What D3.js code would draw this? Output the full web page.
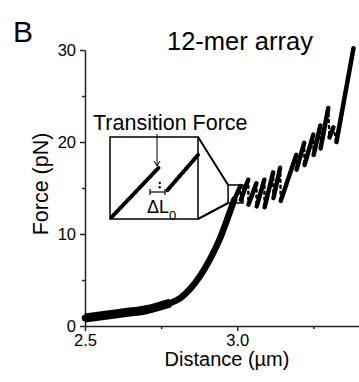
<!DOCTYPE html>
<html>
<head>
<meta charset="utf-8">
<script src="https://cdn.jsdelivr.net/npm/d3@7"></script>
<style>
  body { margin: 0; background: #fff; }
  text { font-family: "Liberation Sans", Arial, sans-serif; fill: #000; }
</style>
</head>
<body>
<svg id="chart" width="359" height="382"></svg>
<script>
// main trace (distance in µm, force in pN)
const distance = [2.500, 2.549, 2.599, 2.648, 2.697, 2.747, 2.780, 2.813, 2.845, 2.878, 2.911, 2.944, 2.970, 2.990,
  3.010, 3.012, 3.036, 3.037, 3.063, 3.064, 3.089, 3.090, 3.118, 3.119, 3.141, 3.143, 3.194, 3.195,
  3.220, 3.221, 3.250, 3.251, 3.273, 3.274, 3.299, 3.303, 3.316, 3.326, 3.382];
const force = [0.87, 1.09, 1.30, 1.52, 1.74, 2.17, 2.50, 3.04, 4.02, 5.43, 7.28, 9.57, 11.85, 13.70,
  15.2, 13.7, 15.9, 13.2, 15.5, 13.0, 15.9, 12.9, 16.7, 13.9, 17.2, 13.6, 18.6, 17.0,
  19.9, 17.5, 20.8, 18.6, 21.8, 19.3, 23.7, 20.5, 21.6, 20.0, 30.2];
const lowCount = 7;     // flat, noisy low-force stretch (thickest band)
const smoothCount = 14; // end of the smooth rise, saw-tooth follows

// inset (zoom of the first transition)
const insetDistance1 = [2.971, 2.997];
const insetForce1 = [13.42, 14.59];
const insetDistance2 = [3.002, 3.019];
const insetForce2 = [14.06, 14.90];
const insetDots = [[2.9977, 14.23], [2.9977, 14.13]];
const zoomDomainX = [2.970, 3.019];
const zoomDomainY = [13.37, 15.33];

const xTicks = [2.5, 3.0];
const xMinor = [2.75, 3.25];
const yTicks = [0, 10, 20, 30];
const yMinor = [5, 15, 25];

const svg = d3.select("#chart");

const x = d3.scaleLinear().domain([2.5, 3.4]).range([85, 359]);
const y = d3.scaleLinear().domain([0, 30]).range([326, 50]);

// axes
const axisColor = "#222";
const fontFam = "Liberation Sans, Arial, sans-serif";
const gx = svg.append("g").attr("transform", "translate(0,326)")
  .call(d3.axisBottom(x).tickValues(xTicks).tickFormat(d3.format(".1f")).tickSize(5).tickSizeOuter(0));
gx.append("g").call(d3.axisBottom(x).tickValues(xMinor).tickFormat("").tickSize(3).tickSizeOuter(0))
  .select(".domain").remove();
gx.attr("font-size", 16.5).attr("font-family", fontFam);
gx.selectAll("text").attr("fill", "#000");

const gy = svg.append("g").attr("transform", "translate(85,0)")
  .call(d3.axisLeft(y).tickValues(yTicks).tickSize(5).tickSizeOuter(0));
gy.append("g").call(d3.axisLeft(y).tickValues(yMinor).tickFormat("").tickSize(3).tickSizeOuter(0))
  .select(".domain").remove();
gy.attr("font-size", 16.5).attr("font-family", fontFam);
gy.selectAll("text").attr("x", -9).attr("fill", "#000");

svg.selectAll(".domain, .tick line").attr("stroke", axisColor).attr("stroke-width", 1.5);

// trace
const pts = distance.map((d, i) => [d, force[i]]);
const smooth = d3.line().x(d => x(d[0])).y(d => y(d[1])).curve(d3.curveMonotoneX);

svg.append("path")
  .attr("d", smooth(pts.slice(0, lowCount)))
  .attr("fill", "none").attr("stroke", "#000").attr("stroke-width", 9)
  .attr("stroke-linejoin", "round").attr("stroke-linecap", "butt");
svg.append("path")
  .attr("d", smooth(pts.slice(0, smoothCount)))
  .attr("fill", "none").attr("stroke", "#000").attr("stroke-width", 6.5)
  .attr("stroke-linejoin", "round").attr("stroke-linecap", "round");

// saw-tooth part: rising stretches thick, force drops as sparse dots
const saw = pts.slice(smoothCount - 1);
d3.pairs(saw).forEach(([a, b]) => {
  const rising = b[1] > a[1];
  svg.append("line")
    .attr("x1", x(a[0])).attr("y1", y(a[1])).attr("x2", x(b[0])).attr("y2", y(b[1]))
    .attr("stroke", "#000")
    .attr("stroke-width", rising ? 4.5 : 2.5)
    .attr("stroke-dasharray", rising ? null : "2,4")
    .attr("stroke-linecap", "round");
});

// highlighted region + connectors
const inset = {x0: 110, y0: 137, x1: 198, y1: 219};
const rx0 = x(zoomDomainX[0]), rx1 = x(zoomDomainX[1]);
const ry0 = y(zoomDomainY[1]), ry1 = y(zoomDomainY[0]);
svg.append("rect")
  .attr("x", rx0).attr("y", ry0).attr("width", rx1 - rx0).attr("height", ry1 - ry0)
  .attr("fill", "none").attr("stroke", "#000").attr("stroke-width", 1.5);
svg.append("line").attr("x1", inset.x1).attr("y1", inset.y0).attr("x2", rx0).attr("y2", ry0)
  .attr("stroke", "#000").attr("stroke-width", 2);
svg.append("line").attr("x1", inset.x1).attr("y1", inset.y1).attr("x2", rx0).attr("y2", ry1)
  .attr("stroke", "#000").attr("stroke-width", 2);

// inset
const xi = d3.scaleLinear().domain(zoomDomainX).range([inset.x0, inset.x1]);
const yi = d3.scaleLinear().domain(zoomDomainY).range([inset.y1, inset.y0]);
svg.append("rect")
  .attr("x", inset.x0).attr("y", inset.y0)
  .attr("width", inset.x1 - inset.x0).attr("height", inset.y1 - inset.y0)
  .attr("fill", "#fff").attr("stroke", "#000").attr("stroke-width", 1.5);

const lineI = d3.line().x(d => xi(d[0])).y(d => yi(d[1]));
[[insetDistance1, insetForce1], [insetDistance2, insetForce2]].forEach(([dx, fy]) => {
  svg.append("path")
    .attr("d", lineI(dx.map((d, i) => [d, fy[i]])))
    .attr("fill", "none").attr("stroke", "#000").attr("stroke-width", 4)
    .attr("stroke-dasharray", "4,1.5").attr("stroke-linecap", "round");
});
svg.selectAll("circle.idot").data(insetDots).enter().append("circle")
  .attr("class", "idot")
  .attr("cx", d => xi(d[0])).attr("cy", d => yi(d[1])).attr("r", 1.2).attr("fill", "#000");

// ΔL0 bracket
const br = svg.append("g").attr("stroke", "#000").attr("stroke-width", 1.2);
br.append("line").attr("x1", 150).attr("x2", 165).attr("y1", 192).attr("y2", 192);
br.append("line").attr("x1", 150).attr("x2", 150).attr("y1", 189).attr("y2", 195);
br.append("line").attr("x1", 165).attr("x2", 165).attr("y1", 189).attr("y2", 195);

const dl = svg.append("text").attr("x", 147).attr("y", 213).style("font-size", "18px");
dl.append("tspan").text("ΔL");
dl.append("tspan").attr("dy", 7).style("font-size", "13px").text("0");

// Transition Force annotation + arrow
svg.append("line").attr("x1", 157).attr("y1", 134).attr("x2", 157).attr("y2", 165)
  .attr("stroke", "#000").attr("stroke-width", 1);
svg.append("path").attr("d", "M154,161 L157,166 L160,161")
  .attr("fill", "none").attr("stroke", "#000").attr("stroke-width", 1);
svg.append("text").attr("x", 93).attr("y", 130).style("font-size", "21.5px").text("Transition Force");

// titles
svg.append("text").attr("x", 13).attr("y", 42).style("font-size", "30px").text("B");
svg.append("text").attr("x", 167).attr("y", 50).style("font-size", "25.5px").text("12-mer array");
svg.append("text").attr("x", 227).attr("y", 366).attr("text-anchor", "middle")
  .style("font-size", "20px").text("Distance (µm)");
svg.append("text").attr("transform", "translate(48,184) rotate(-90)").attr("text-anchor", "middle")
  .style("font-size", "21.5px").text("Force (pN)");
</script>
</body>
</html>
